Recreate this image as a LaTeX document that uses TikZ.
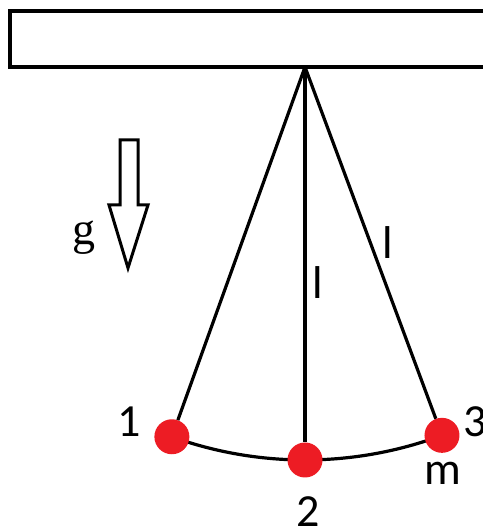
\documentclass[tikz,border=0pt]{standalone}
\usepackage{fontspec}
\usetikzlibrary{calc}
\setmainfont{Carlito}
\newfontfamily\gfont{Liberation Serif}
\definecolor{ballred}{HTML}{ED1C24}
\begin{document}
\begin{tikzpicture}[x=1pt,y=1pt,
  lbl/.style={inner sep=0pt,anchor=base,font=\fontsize{46}{50}\selectfont},
  ball/.style={circle,fill=ballred,draw=none,minimum size=35pt,inner sep=0pt},
  rod/.style={line width=3.2pt},
]
\useasboundingbox (0,0) rectangle (482,529);
% ceiling
\draw[line width=3.4pt] (10,462) rectangle (520,518);
\coordinate (pivot) at (305,462);
% mass positions
\coordinate (c1) at ($(pivot)+(250.2:393)$);
\coordinate (c2) at ($(pivot)+(270:393)$);
\coordinate (c3) at ($(pivot)+(290.4:393)$);
% arc
\draw[rod] (c1) arc[start angle=250.2, end angle=290.4, radius=393];
% masses
\node[ball] (b1) at (c1) {};
\node[ball] (b2) at (c2) {};
\node[ball] (b3) at (c3) {};
% rods
\draw[rod] (pivot) -- (b1);
\draw[rod] (pivot) -- (b2);
\draw[rod] (pivot) -- (b3);
% gravity arrow
\draw[line width=3pt,line join=miter] (120,389) -- (138,389) -- (138,324) -- (148,324) -- (128,261) -- (109,324) -- (120,324) -- cycle;
\node[inner sep=0pt,anchor=base,font=\gfont\fontsize{46}{50}\selectfont] (g) at (84,284) {g};
% labels
\node[lbl] (n1) at (129,92) {1};
\node[lbl] (n2) at (308,2) {2};
\node[lbl] (n3) at (475,92) {3};
\node[lbl] (m) at (443,44) {m};
\node[lbl] (l1) at (318,230) {l};
\node[lbl] (l2) at (388,270) {l};
\end{tikzpicture}
\end{document}
